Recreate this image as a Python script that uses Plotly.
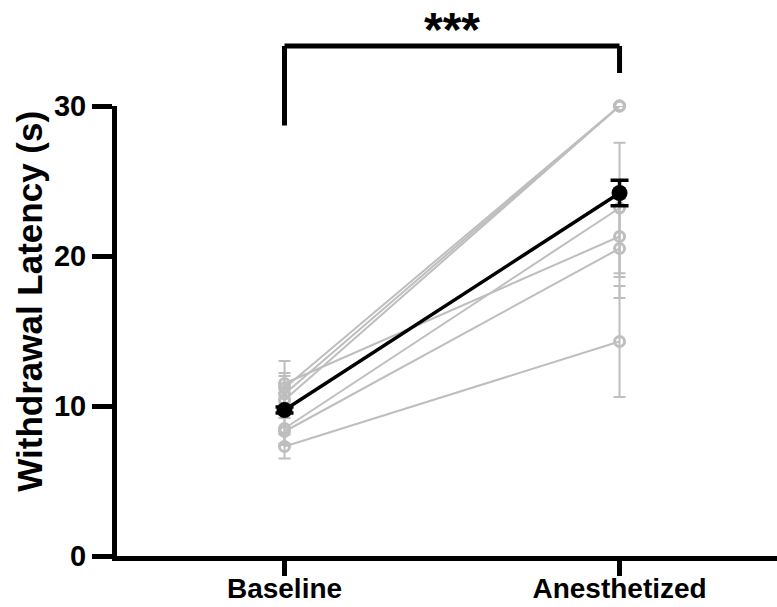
import plotly.graph_objects as go

# ---- data ----
categories = ["Baseline", "Anesthetized"]
x_pos = [0, 1]
baseline = [11.5, 11.2, 10.8, 10.4, 8.5, 8.3, 7.3]
anesthetized = [21.3, 30.0, 30.0, 30.0, 23.2, 20.5, 14.3]
baseline_err = [1.5, 1.0, 1.2, 0.9, 1.0, 0.9, 0.8]
anesthetized_err = [2.7, 0.0, 0.0, 0.0, 4.35, 3.3, 3.7]
mean_values = [9.73, 24.2]
mean_sem = [0.2, 0.85]
y_ticks = [0, 10, 20, 30]
y_max = 30
y_title = "Withdrawal Latency (s)"
sig_label = "***"
bracket_left = 28.7
bracket_top = 34.0
bracket_right = 32.2

GREY = "#bebebe"
FONT = "Liberation Sans"

fig = go.Figure()

for b, a, eb, ea in zip(baseline, anesthetized, baseline_err, anesthetized_err):
    fig.add_trace(go.Scatter(
        x=x_pos, y=[b, a], mode="lines+markers",
        line=dict(color=GREY, width=2),
        marker=dict(symbol="circle-open", size=10, color=GREY, line=dict(width=3, color=GREY)),
        error_y=dict(type="data", array=[eb, ea], color=GREY, thickness=2, width=6),
        cliponaxis=False, showlegend=False, hoverinfo="skip"))

fig.add_trace(go.Scatter(
    x=x_pos, y=mean_values, mode="lines+markers",
    line=dict(color="black", width=3.5),
    marker=dict(symbol="circle", size=16, color="black"),
    error_y=dict(type="data", array=mean_sem, color="black", thickness=3.5, width=9),
    cliponaxis=False, showlegend=False, hoverinfo="skip"))

# significance bracket
for x0, y0, x1, y1 in [(x_pos[0], bracket_left, x_pos[0], bracket_top),
                       (x_pos[0], bracket_top, x_pos[1], bracket_top),
                       (x_pos[1], bracket_top, x_pos[1], bracket_right)]:
    fig.add_shape(type="line", xref="x", yref="y domain",
                  x0=x0, x1=x1, y0=y0 / y_max, y1=y1 / y_max,
                  line=dict(color="black", width=5))

fig.add_annotation(x=0.5, xref="x", y=35.13 / y_max, yref="y domain",
                   yanchor="middle", text=sig_label, showarrow=False,
                   font=dict(family=FONT, size=48, color="black", weight="bold"))

# y-axis title
fig.add_annotation(x=-0.132, xref="paper", y=0.567, yref="paper",
                   xanchor="center", yanchor="middle", textangle=-90,
                   text=y_title, showarrow=False,
                   font=dict(family=FONT, size=35, color="black", weight="bold"))

fig.update_xaxes(range=[-0.5, 1.47], tickvals=x_pos, ticktext=categories,
                 showline=True, linewidth=5, linecolor="black",
                 ticks="outside", ticklen=15, tickwidth=5, tickcolor="black",
                 ticklabelstandoff=-12,
                 tickfont=dict(family=FONT, size=28, color="black", weight="bold"),
                 showgrid=False, zeroline=False, fixedrange=True)
fig.update_yaxes(range=[0, y_max], tickvals=y_ticks,
                 showline=True, linewidth=5, linecolor="black",
                 ticks="outside", ticklen=20, tickwidth=5, tickcolor="black",
                 tickfont=dict(family=FONT, size=29, color="black", weight="bold"),
                 showgrid=False, zeroline=False, fixedrange=True)

fig.update_layout(width=777, height=607,
                  margin=dict(l=117, r=0, t=106, b=51, autoexpand=False),
                  paper_bgcolor="white", plot_bgcolor="white",
                  hovermode=False)

# remove the page's default body margin so the figure fills the window
fig.write_html("out.html", config={"displayModeBar": False},
               post_script="document.body.style.margin='0';")
